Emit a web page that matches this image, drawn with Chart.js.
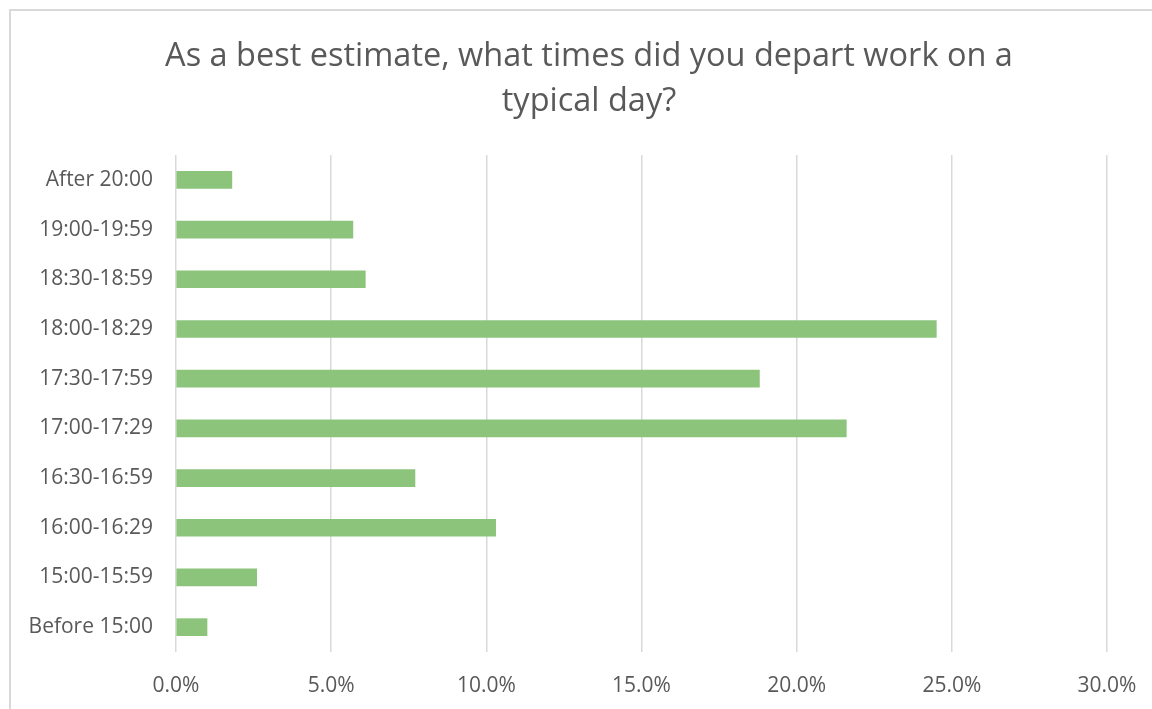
<!DOCTYPE html>
<html>
<head>
<meta charset="utf-8">
<script src="https://cdn.jsdelivr.net/npm/chart.js@4"></script>
<style>
  html, body { margin: 0; padding: 0; background: #fff; overflow: hidden; width: 1152px; height: 709px; }
  #box { position: absolute; left: 9px; top: 9px; width: 1156px; height: 710px; border: 2px solid #d9d9d9; box-sizing: content-box; background:#fff; }
  canvas { display: block; }
</style>
</head>
<body>
<div id="box"><canvas id="c" width="1156" height="710"></canvas></div>
<script>
const titleLines = ["As a best estimate, what times did you depart work on a", "typical day?"];
const categories = ["After 20:00", "19:00-19:59", "18:30-18:59", "18:00-18:29", "17:30-17:59", "17:00-17:29", "16:30-16:59", "16:00-16:29", "15:00-15:59", "Before 15:00"];
const values = [1.8, 5.7, 6.1, 24.5, 18.8, 21.6, 7.7, 10.3, 2.6, 1.0];
const xTicks = [0, 5, 10, 15, 20, 25, 30];

const FONT = "'Open Sans', 'Liberation Sans', sans-serif";
new Chart(document.getElementById('c'), {
  type: 'bar',
  data: {
    labels: categories,
    datasets: [{
      data: values,
      backgroundColor: '#8dc47c',
      borderWidth: 0,
      barThickness: 17
    }]
  },
  options: {
    indexAxis: 'y',
    responsive: false,
    animation: false,
    layout: { padding: 0 },
    plugins: {
      legend: { display: false },
      tooltip: { enabled: false },
      title: {
        display: true,
        text: titleLines,
        color: '#595959',
        font: { family: FONT, size: 32.5, weight: 'normal', lineHeight: 1.385 },
        padding: { top: 23, bottom: 31 }
      }
    },
    scales: {
      x: {
        min: 0, max: 30,
        afterBuildTicks: (s) => { s.ticks = xTicks.map(v => ({ value: v })); },
        afterFit: (s) => { s.height = 69; },
        grid: { color: '#d9d9d9', lineWidth: 1.5, drawTicks: false },
        border: { display: false },
        ticks: {
          color: '#595959',
          padding: 21,
          font: { family: FONT, size: 21 },
          callback: (v) => Number(v).toFixed(1) + '%'
        }
      },
      y: {
        afterFit: (s) => { s.width = 165; },
        grid: { display: false },
        border: { display: false },
        ticks: {
          color: '#595959',
          padding: 15,
          font: { family: FONT, size: 21 }
        }
      },
      yRight: {
        type: 'category',
        position: 'right',
        afterFit: (s) => { s.width = 60; },
        grid: { display: false },
        border: { display: false },
        ticks: { display: false }
      }
    }
  }
});
</script>
</body>
</html>
